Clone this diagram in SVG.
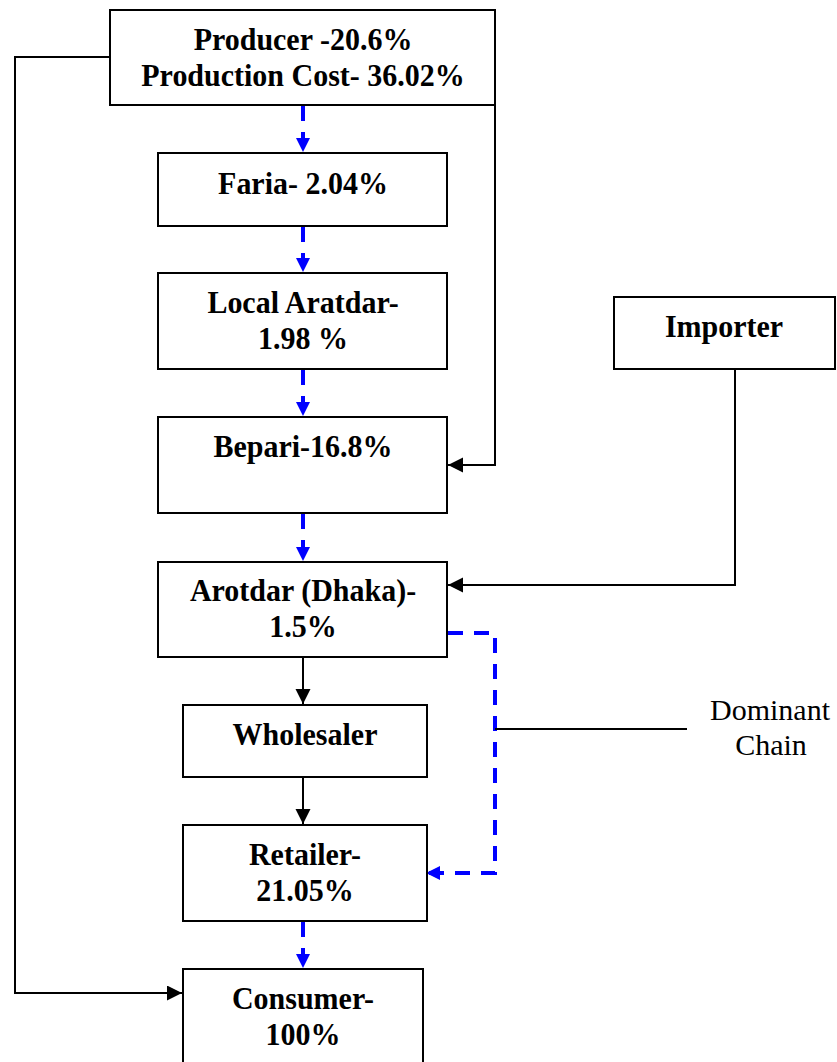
<svg xmlns="http://www.w3.org/2000/svg" width="837" height="1062" viewBox="0 0 837 1062">
  <defs>
    <style>
      .box { fill: #ffffff; stroke: #000000; stroke-width: 2; }
      .lbl { font-family: "Liberation Serif", "Times New Roman", Times, serif; font-size: 30px; font-weight: bold; text-anchor: middle; fill: #000000; }
      .note { font-family: "Liberation Serif", "Times New Roman", Times, serif; font-size: 30px; text-anchor: middle; fill: #000000; }
      .solid { fill: none; stroke: #000000; stroke-width: 2; }
      .dash { fill: none; stroke: #0000ff; stroke-width: 4; stroke-dasharray: 15 11; }
    </style>
    <marker id="arrow-black" markerUnits="userSpaceOnUse" markerWidth="16" markerHeight="16" refX="15" refY="7.5" orient="auto" viewBox="0 0 16 16">
      <path d="M0,0 L15,7.5 L0,15 z" fill="#000000"/>
    </marker>
    <marker id="arrow-blue" markerUnits="userSpaceOnUse" markerWidth="16" markerHeight="16" refX="14" refY="7" orient="auto" viewBox="0 0 16 16">
      <path d="M0,0 L14,7 L0,14 z" fill="#0000ff"/>
    </marker>
  </defs>

  <rect width="837" height="1062" fill="#ffffff"/>

  <!-- connectors -->
  <g id="connectors">
    <!-- main dashed chain -->
    <line class="dash" x1="303" y1="106" x2="303" y2="152" marker-end="url(#arrow-blue)"/>
    <line class="dash" x1="303" y1="227" x2="303" y2="272" marker-end="url(#arrow-blue)"/>
    <line class="dash" x1="303" y1="370" x2="303" y2="416" marker-end="url(#arrow-blue)"/>
    <line class="dash" x1="303" y1="514" x2="303" y2="561" marker-end="url(#arrow-blue)"/>
    <line class="dash" x1="303" y1="922" x2="303" y2="968" marker-end="url(#arrow-blue)"/>
    <!-- Arotdar to Retailer, dominant chain bypass -->
    <polyline class="dash" points="448,633 495,633 495,873 426,873" marker-end="url(#arrow-blue)"/>
    <!-- solid links -->
    <line class="solid" x1="303" y1="657" x2="303" y2="704" marker-end="url(#arrow-black)"/>
    <line class="solid" x1="303" y1="777" x2="303" y2="824" marker-end="url(#arrow-black)"/>
    <polyline class="solid" points="495,105 495,465 448,465" marker-end="url(#arrow-black)"/>
    <polyline class="solid" points="110,57 15,57 15,993 182,993" marker-end="url(#arrow-black)"/>
    <polyline class="solid" points="735,369 735,585 448,585" marker-end="url(#arrow-black)"/>
    <!-- label leader -->
    <line class="solid" x1="495" y1="729" x2="687" y2="729"/>
  </g>

  <!-- bold labels are stretched slightly taller than the regular face -->
  <g id="producer">
    <rect class="box" x="110" y="10" width="385" height="95"/>
    <text class="lbl" transform="translate(303 50) scale(1 1.07)">Producer -20.6%</text>
    <text class="lbl" transform="translate(303 86) scale(1 1.07)">Production Cost- 36.02%</text>
  </g>

  <g id="faria">
    <rect class="box" x="158" y="153" width="289" height="73"/>
    <text class="lbl" transform="translate(303 194) scale(1 1.07)">Faria- 2.04%</text>
  </g>

  <g id="local-aratdar">
    <rect class="box" x="158" y="273" width="289" height="96"/>
    <text class="lbl" transform="translate(303 313) scale(1 1.07)">Local Aratdar-</text>
    <text class="lbl" transform="translate(303 349) scale(1 1.07)">1.98 %</text>
  </g>

  <g id="bepari">
    <rect class="box" x="158" y="417" width="289" height="96"/>
    <text class="lbl" transform="translate(303 457) scale(1 1.07)">Bepari-16.8%</text>
  </g>

  <g id="arotdar">
    <rect class="box" x="158" y="562" width="289" height="95"/>
    <text class="lbl" transform="translate(303 601) scale(1 1.07)">Arotdar (Dhaka)-</text>
    <text class="lbl" transform="translate(303 637) scale(1 1.07)">1.5%</text>
  </g>

  <g id="wholesaler">
    <rect class="box" x="183" y="705" width="244" height="72"/>
    <text class="lbl" transform="translate(305 745) scale(1 1.07)">Wholesaler</text>
  </g>

  <g id="retailer">
    <rect class="box" x="183" y="825" width="244" height="96"/>
    <text class="lbl" transform="translate(305 865) scale(1 1.07)">Retailer-</text>
    <text class="lbl" transform="translate(305 901) scale(1 1.07)">21.05%</text>
  </g>

  <g id="consumer">
    <rect class="box" x="183" y="969" width="240" height="100"/>
    <text class="lbl" transform="translate(303 1009) scale(1 1.07)">Consumer-</text>
    <text class="lbl" transform="translate(303 1045) scale(1 1.07)">100%</text>
  </g>

  <g id="importer">
    <rect class="box" x="614" y="297" width="221" height="72"/>
    <text class="lbl" transform="translate(724 337) scale(1 1.07)">Importer</text>
  </g>

  <g id="dominant-chain">
    <text class="note" x="770" y="720">Dominant</text>
    <text class="note" x="771" y="755">Chain</text>
  </g>
</svg>
